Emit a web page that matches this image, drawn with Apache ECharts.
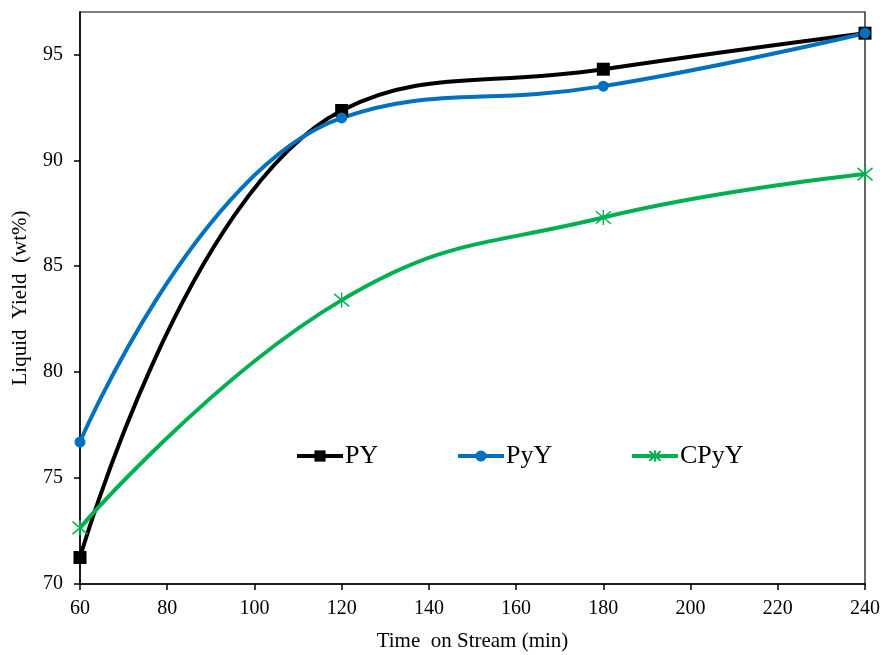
<!DOCTYPE html>
<html>
<head>
    <meta charset="UTF-8">
    <title></title>
    <script src="https://cdn.jsdelivr.net/npm/echarts@6/dist/echarts.min.js"></script>
    <style>
        *{margin:0;padding:0;}
        body,html{ width: 880px; height: 655px; background: #fff; }
        #main{ width: 880px; height: 655px; }
    </style>
</head>
<body>
<div id="main"></div>
<script>
    // time on stream (min)
    var timeData = [60, 120, 180, 240];
    // liquid yield (wt%)
    var pyData = [71.25, 92.35, 94.3, 96.0];
    var pyyData = [76.7, 92.0, 93.5, 96.0];
    var cpyyData = [72.65, 83.4, 87.3, 89.35];

    var font = 'Liberation Serif, Times New Roman, serif';
    var star = 'path://M0,0 L10,10 M10,0 L0,10 M5,-1 L5,11';

    function pairs(arr) {
        var out = [];
        for (var i = 0; i < timeData.length; i++) out.push([timeData[i], arr[i]]);
        return out;
    }

    var myChart = echarts.init(document.getElementById('main'));
    var legendText = { fontFamily: font, fontSize: 26, color: '#000', padding: [0, 0, 0, -3] };
    var legendBase = { itemWidth: 46, itemHeight: 14, itemGap: 0, padding: 0, top: 443, lineStyle: { width: 4 }, textStyle: legendText };
    var option = {
        animation: false,
        grid: { left: 80, right: 15, top: 12, bottom: 71, outerBoundsMode: 'none', show: true, borderColor: '#000', borderWidth: 1.2 },
        legend: [
            Object.assign({ data: ['PY'], left: 295 }, legendBase),
            Object.assign({ data: ['PyY'], left: 456 }, legendBase),
            Object.assign({ data: ['CPyY'], left: 630 }, legendBase)
        ],
        xAxis: {
            type: 'value', min: 60, max: 240, interval: 20,
            name: 'Time  on Stream (min)', nameLocation: 'middle', nameGap: 47,
            nameTextStyle: { fontFamily: font, fontSize: 21, color: '#000' },
            axisLine: { lineStyle: { color: '#000', width: 1.5 } },
            axisTick: { show: true, length: 6, lineStyle: { color: '#000', width: 1.5 } },
            axisLabel: { fontFamily: font, fontSize: 20, color: '#000', margin: 15 },
            splitLine: { show: false }
        },
        yAxis: {
            type: 'value', min: 70, max: 97, interval: 5,
            name: 'Liquid  Yield  (wt%)', nameLocation: 'middle', nameGap: 49,
            nameTextStyle: { fontFamily: font, fontSize: 21, color: '#000' },
            axisLine: { show: true, lineStyle: { color: '#000', width: 1.5 } },
            axisTick: { show: true, length: 6, lineStyle: { color: '#000', width: 1.5 } },
            axisLabel: { fontFamily: font, fontSize: 20, color: '#000', margin: 17, showMaxLabel: false },
            splitLine: { show: false }
        },
        series: [
            {
                name: 'PY', type: 'line', smooth: 0.45, data: pairs(pyData),
                symbol: 'rect', symbolSize: 13,
                lineStyle: { color: '#000', width: 4 },
                itemStyle: { color: '#000' }
            },
            {
                name: 'PyY', type: 'line', smooth: 0.45, data: pairs(pyyData),
                symbol: 'circle', symbolSize: 11,
                lineStyle: { color: '#0070C0', width: 4 },
                itemStyle: { color: '#0070C0' }
            },
            {
                name: 'CPyY', type: 'line', smooth: 0.45, data: pairs(cpyyData),
                symbol: star, symbolSize: 15,
                lineStyle: { color: '#00B050', width: 4 },
                itemStyle: { color: 'none', borderColor: '#00B050', borderWidth: 1.5 }
            }
        ]
    };
    myChart.setOption(option);
</script>
</body>
</html>
